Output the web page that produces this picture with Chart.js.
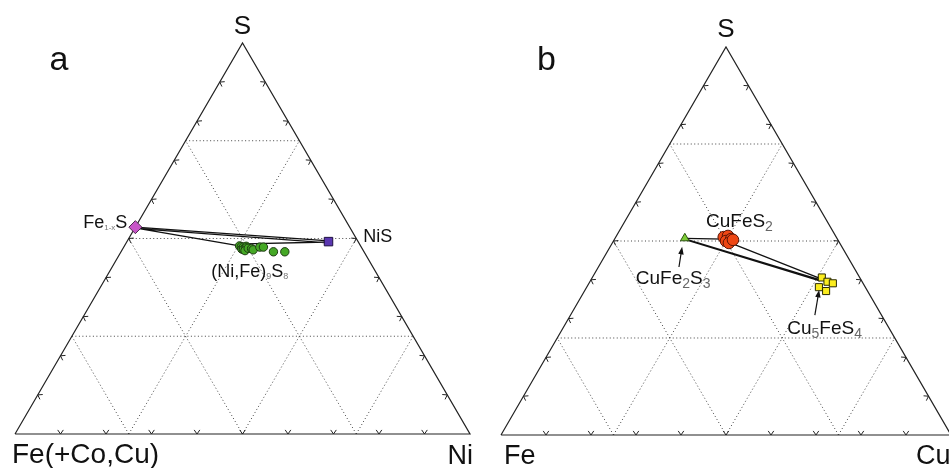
<!DOCTYPE html>
<html lang="en">
<head>
    <meta charset="UTF-8">
    <title>Ternary sulfide diagrams</title>
    <script src="https://cdn.jsdelivr.net/npm/chart.js"></script>
    <style>
        body {
            margin: 0;
            background: #fff;
            overflow: hidden;
        }

        canvas {
            position: absolute;
            top: 0;
        }

        #chartA { left: 0; }
        #chartB { left: 474px; }
    </style>
</head>
<body>
    <canvas id="chartA" width="474" height="468"></canvas>
    <canvas id="chartB" width="475" height="468"></canvas>

    <script>
        // --- data (mole fractions: right-hand corner component, S) ---

        // panel a: Fe(+Co,Cu) - Ni - S
        const poNi = [0.0];                 // Fe1-xS
        const poS = [0.529];
        const nisNi = [0.443];              // NiS
        const nisS = [0.492];
        const pnNi = [0.253, 0.258, 0.262, 0.263, 0.266, 0.268, 0.270, 0.271, 0.275, 0.283, 0.288, 0.299, 0.307, 0.335, 0.360];
        const pnS = [0.481, 0.479, 0.473, 0.478, 0.472, 0.480, 0.476, 0.469, 0.475, 0.474, 0.471, 0.478, 0.478, 0.466, 0.466];
        // tie lines: [Ni1, S1, Ni2, S2]
        const tiesA = [
            [0.0, 0.529, 0.443, 0.494],
            [0.0, 0.526, 0.443, 0.489],
            [0.0, 0.527, 0.253, 0.481],
            [0.262, 0.486, 0.443, 0.491]
        ];

        // panel b: Fe - Cu - S
        const cbCu = [0.155];               // CuFe2S3
        const cbS = [0.507];
        const ccpCu = [0.240, 0.248, 0.250, 0.259, 0.259, 0.264];   // CuFeS2
        const ccpS = [0.510, 0.513, 0.500, 0.505, 0.495, 0.503];
        const bnCu = [0.510, 0.528, 0.542, 0.516, 0.537];           // Cu5FeS4
        const bnS = [0.406, 0.395, 0.391, 0.381, 0.371];
        // tie lines: [Cu1, S1, Cu2, S2]
        const tiesB = [
            [0.155, 0.507, 0.245, 0.505],
            [0.158, 0.505, 0.512, 0.399],
            [0.160, 0.503, 0.510, 0.397],
            [0.262, 0.495, 0.512, 0.402]
        ];
        // label arrows: [Cu tail, S tail, Cu head, S head]
        const arrowsB = [
            [0.179, 0.433, 0.160, 0.485],
            [0.543, 0.309, 0.520, 0.374]
        ];

        const gridFractions = [0.25, 0.5, 0.75];
        const tickFractions = [0.1, 0.2, 0.3, 0.4, 0.5, 0.6, 0.7, 0.8, 0.9];

        // --- helpers ---
        const SQ = Math.sqrt(3) / 2;
        const GAP = { x: null, y: null };

        function tern(r, s) {
            return { x: r + s / 2, y: s * SQ };
        }

        function points(rs, ss) {
            return rs.map((r, i) => tern(r, ss[i]));
        }

        function segments(list) {
            const pts = [];
            list.forEach(t => pts.push(tern(t[0], t[1]), tern(t[2], t[3]), GAP));
            return pts;
        }

        function frameData() {
            return [tern(0, 0), tern(1, 0), tern(0, 1), tern(0, 0)];
        }

        function gridData() {
            const pts = [];
            gridFractions.forEach(f => {
                pts.push(tern(0, f), tern(1 - f, f), GAP);
                pts.push(tern(f, 0), tern(f, 1 - f), GAP);
                pts.push(tern(1 - f, 0), tern(0, 1 - f), GAP);
            });
            return pts;
        }

        // small chevrons on the edges every 10 %
        function tickData(len) {
            const L = tern(0, 0), R = tern(1, 0), T = tern(0, 1);
            const c = { x: 0.5, y: SQ / 3 };
            const edges = [[L, R], [R, T], [T, L]];
            const pts = [];
            const a = 0.6;
            edges.forEach(([p, q]) => {
                const ex = q.x - p.x, ey = q.y - p.y;
                const el = Math.hypot(ex, ey);
                const ux = ex / el, uy = ey / el;
                let nx = -uy, ny = ux;
                const mx = (p.x + q.x) / 2, my = (p.y + q.y) / 2;
                if ((c.x - mx) * nx + (c.y - my) * ny < 0) { nx = -nx; ny = -ny; }
                tickFractions.forEach(t => {
                    const ax = p.x + ex * t, ay = p.y + ey * t;
                    const dx = Math.cos(a) * nx, dy = Math.cos(a) * ny;
                    const sx = Math.sin(a) * ux, sy = Math.sin(a) * uy;
                    pts.push({ x: ax + len * (dx + sx), y: ay + len * (dy + sy) });
                    pts.push({ x: ax, y: ay });
                    pts.push({ x: ax + len * (dx - sx), y: ay + len * (dy - sy) });
                    pts.push(GAP);
                });
            });
            return pts;
        }

        const FONT = '"Liberation Sans", Arial, sans-serif';

        const ternPlugin = {
            id: 'ternText',
            afterDatasetsDraw(chart, args, opts) {
                const ctx = chart.ctx;
                const xs = chart.scales.x, ys = chart.scales.y;
                const px = p => [xs.getPixelForValue(p.x), ys.getPixelForValue(p.y)];
                ctx.save();

                (opts.arrows || []).forEach(a => {
                    const [x1, y1] = px(tern(a[0], a[1]));
                    const [x2, y2] = px(tern(a[2], a[3]));
                    const ang = Math.atan2(y2 - y1, x2 - x1);
                    ctx.strokeStyle = '#111';
                    ctx.fillStyle = '#111';
                    ctx.lineWidth = 1.2;
                    ctx.beginPath();
                    ctx.moveTo(x1, y1);
                    ctx.lineTo(x2 - 5 * Math.cos(ang), y2 - 5 * Math.sin(ang));
                    ctx.stroke();
                    ctx.beginPath();
                    ctx.moveTo(x2, y2);
                    ctx.lineTo(x2 - 8 * Math.cos(ang - 0.35), y2 - 8 * Math.sin(ang - 0.35));
                    ctx.lineTo(x2 - 8 * Math.cos(ang + 0.35), y2 - 8 * Math.sin(ang + 0.35));
                    ctx.closePath();
                    ctx.fill();
                });

                (opts.labels || []).forEach(l => {
                    const [ax, ay] = px(tern(l.at[0], l.at[1]));
                    const parts = l.parts.map(p => (typeof p === 'string' ? { t: p } : p));
                    let w = 0;
                    parts.forEach(p => {
                        ctx.font = (p.sub ? l.sub : l.size) + 'px ' + FONT;
                        p.w = ctx.measureText(p.t).width;
                        w += p.w;
                    });
                    let x = ax + l.dx;
                    if (l.align === 'right') x -= w;
                    if (l.align === 'center') x -= w / 2;
                    const y = ay + l.dy;
                    ctx.textBaseline = 'alphabetic';
                    ctx.textAlign = 'left';
                    parts.forEach(p => {
                        ctx.font = (p.sub ? l.sub : l.size) + 'px ' + FONT;
                        ctx.fillStyle = p.sub ? (l.subColor || '#777') : '#111';
                        ctx.fillText(p.t, x, y + (p.sub ? l.drop : 0));
                        x += p.w;
                    });
                });
                ctx.restore();
            }
        };

        function makeChart(id, xr, yr, extra, plugOpts) {
            const tickLen = 5 / 455;
            const base = [
                { data: frameData(), showLine: true, borderColor: '#222', borderWidth: 1.2, pointRadius: 0, order: 9 },
                { data: gridData(), showLine: true, borderColor: '#444', borderWidth: 1, borderDash: [1, 2.5], pointRadius: 0, order: 10 },
                { data: tickData(tickLen), showLine: true, borderColor: '#222', borderWidth: 1, pointRadius: 0, order: 8 }
            ];
            return new Chart(document.getElementById(id), {
                type: 'scatter',
                data: { datasets: base.concat(extra) },
                options: {
                    responsive: false,
                    animation: false,
                    layout: { padding: 0, autoPadding: false },
                    scales: {
                        x: { type: 'linear', min: xr[0], max: xr[1], display: false },
                        y: { type: 'linear', min: yr[0], max: yr[1], display: false }
                    },
                    plugins: {
                        legend: { display: false },
                        tooltip: { enabled: false },
                        ternText: plugOpts
                    }
                },
                plugins: [ternPlugin]
            });
        }

        // panel a
        makeChart('chartA', [-0.033, 1.0088], [-0.0753, 0.9612], [
            { data: segments(tiesA), showLine: true, borderColor: '#111', borderWidth: 1.3, pointRadius: 0, order: 5 },
            { data: points(pnNi, pnS), pointStyle: 'circle', pointRadius: 4.2, backgroundColor: '#45a825', borderColor: '#1d3a12', borderWidth: 1, order: 2 },
            { data: points(poNi, poS), pointStyle: 'rectRot', pointRadius: 6.5, backgroundColor: '#c855c8', borderColor: '#4a2a4a', borderWidth: 1, order: 1 },
            { data: points(nisNi, nisS), pointStyle: 'rect', pointRadius: 6, backgroundColor: '#5a36b0', borderColor: '#1e1040', borderWidth: 1, order: 1 }
        ], {
            labels: [
                { at: [0, 1], dx: 0, dy: -9, align: 'center', size: 26, parts: ['S'] },
                { at: [0, 1], dx: -193, dy: 27, align: 'left', size: 34, parts: ['a'] },
                { at: [0, 0], dx: -3, dy: 29, align: 'left', size: 28, parts: ['Fe(+Co,Cu)'] },
                { at: [1, 0], dx: 3, dy: 30, align: 'right', size: 27, parts: ['Ni'] },
                { at: [poNi[0], poS[0]], dx: -8, dy: 1, align: 'right', size: 18, sub: 8, drop: 2, parts: ['Fe', { t: '1-x', sub: true }, 'S'] },
                { at: [0.5, 0.5], dx: 7, dy: 4, align: 'left', size: 18, parts: ['NiS'] },
                { at: [0.275, 0.475], dx: -37, dy: 29, align: 'left', size: 18, sub: 9, drop: 2, parts: ['(Ni,Fe)', { t: '9', sub: true }, 'S', { t: '8', sub: true }] }
            ]
        });

        // panel b
        makeChart('chartB', [-0.06, 0.9956], [-0.0737, 0.971], [
            { data: segments(tiesB), showLine: true, borderColor: '#111', borderWidth: 1.3, pointRadius: 0, order: 5 },
            { data: points(ccpCu, ccpS), pointStyle: 'circle', pointRadius: 5.8, backgroundColor: '#ee4714', borderColor: '#5a1506', borderWidth: 1, order: 2 },
            { data: points(bnCu, bnS), pointStyle: 'rect', pointRadius: 5, backgroundColor: '#fbec1e', borderColor: '#2a2a05', borderWidth: 1, order: 2 },
            { data: points(cbCu, cbS), pointStyle: 'triangle', pointRadius: 5, backgroundColor: '#7ccc35', borderColor: '#2f5512', borderWidth: 1, order: 1 }
        ], {
            arrows: arrowsB,
            labels: [
                { at: [0, 1], dx: 0, dy: -10, align: 'center', size: 26, parts: ['S'] },
                { at: [0, 1], dx: -189, dy: 23, align: 'left', size: 34, parts: ['b'] },
                { at: [0, 0], dx: 3, dy: 29, align: 'left', size: 27, parts: ['Fe'] },
                { at: [1, 0], dx: -35, dy: 29, align: 'left', size: 27, parts: ['Cu'] },
                { at: [0.25, 0.5], dx: -20, dy: -14, align: 'left', size: 19, sub: 14, drop: 4, subColor: '#666', parts: ['CuFeS', { t: '2', sub: true }] },
                { at: [cbCu[0], cbS[0]], dx: -49, dy: 46, align: 'left', size: 19, sub: 14, drop: 4, subColor: '#666', parts: ['CuFe', { t: '2', sub: true }, 'S', { t: '3', sub: true }] },
                { at: [0.53, 0.39], dx: -40, dy: 50, align: 'left', size: 19, sub: 14, drop: 4, subColor: '#666', parts: ['Cu', { t: '5', sub: true }, 'FeS', { t: '4', sub: true }] }
            ]
        });
    </script>
</body>
</html>
